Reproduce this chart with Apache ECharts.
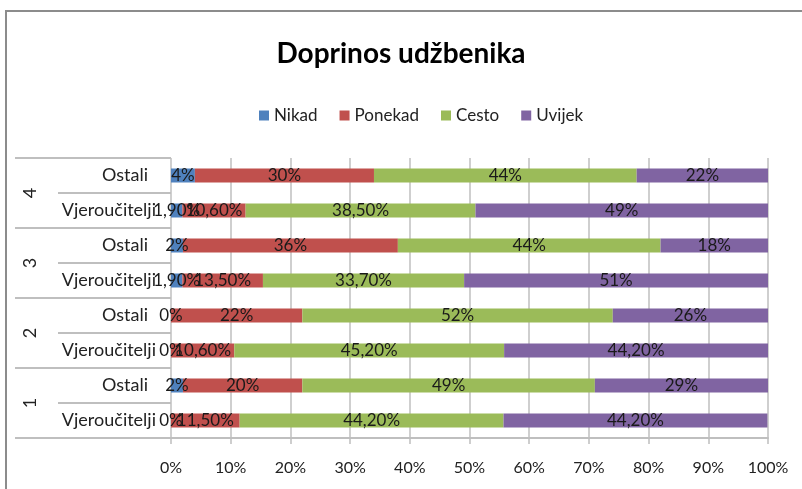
<!DOCTYPE html>
<html lang="hr">
<head>
    <meta charset="utf-8">
    <title>Doprinos udžbenika</title>
    <script src="https://cdn.jsdelivr.net/npm/echarts@6/dist/echarts.min.js"></script>
    <style>
        html, body { margin: 0; padding: 0; background: #fff; }
        #main { width: 802px; height: 489px; }
    </style>
</head>
<body>
<div id="main"></div>
<script>
    // redovi odozgo prema dolje
    var rows = ['Ostali', 'Vjeroučitelji', 'Ostali', 'Vjeroučitelji', 'Ostali', 'Vjeroučitelji', 'Ostali', 'Vjeroučitelji'];
    var groups = ['4', '3', '2', '1'];
    var seriesNames = ['Nikad', 'Ponekad', 'Cesto', 'Uvijek'];
    var colors = ['#4F81BD', '#C0504D', '#9BBB59', '#8064A2'];

    var nikad   = [4, 1.9, 2, 1.9, 0, 0, 2, 0];
    var ponekad = [30, 10.6, 36, 13.5, 22, 10.6, 20, 11.5];
    var cesto   = [44, 38.5, 44, 33.7, 52, 45.2, 49, 44.2];
    var uvijek  = [22, 49, 18, 51, 26, 44.2, 29, 44.2];

    var xTicks = [0, 10, 20, 30, 40, 50, 60, 70, 80, 90, 100];

    var font = 'Lato';
    var grey = '#bfbfbf';

    function fmt(v) {
        if (v === Math.round(v)) return v + '%';
        return v.toFixed(2).replace('.', ',') + '%';
    }

    var values = [nikad, ponekad, cesto, uvijek];
    var series = [];
    for (var i = 0; i < seriesNames.length; i++) {
        series.push({
            name: seriesNames[i],
            type: 'bar',
            stack: 'total',
            yAxisIndex: 0,
            barWidth: 14,
            itemStyle: { color: colors[i] },
            label: {
                show: true,
                position: 'inside',
                color: '#1a1a1a',
                fontFamily: font,
                fontSize: 17,
                formatter: function (p) { return fmt(p.value); }
            },
            data: values[i]
        });
    }

    var myChart = echarts.init(document.getElementById('main'));
    var option = {
        animation: false,
        backgroundColor: '#fff',
        title: {
            text: 'Doprinos udžbenika',
            left: 'center',
            top: 35,
            textStyle: { fontFamily: font, fontSize: 28, fontWeight: 'bold', color: '#000' }
        },
        legend: {
            top: 102,
            left: 254,
            icon: 'rect',
            itemWidth: 10,
            itemHeight: 10,
            itemGap: 22,
            textStyle: { fontFamily: font, fontSize: 17, color: '#222' },
            data: seriesNames
        },
        grid: { left: 171, right: 34, top: 158, bottom: 51 },
        xAxis: {
            type: 'value',
            min: 0,
            max: 100,
            interval: 10,
            axisLine: { show: true, lineStyle: { color: grey, width: 2 } },
            axisTick: { show: true, length: 6, lineStyle: { color: grey, width: 1.5 } },
            splitLine: { show: true, lineStyle: { color: grey, width: 1.5 } },
            axisLabel: {
                fontFamily: font, fontSize: 16, color: '#222', margin: 22,
                formatter: function (v) { return xTicks.indexOf(v) >= 0 ? v + '%' : ''; }
            }
        },
        yAxis: [{
            type: 'category',
            inverse: true,
            data: rows,
            axisLine: { show: false },
            axisTick: { show: true, length: 113, lineStyle: { color: grey, width: 2 } },
            axisLabel: {
                fontFamily: font, fontSize: 18, color: '#222', margin: 15,
                formatter: function (v) { return v === 'Ostali' ? '{o|' + v + '}' : v; },
                rich: { o: { fontFamily: font, fontSize: 18, color: '#222', padding: [0, 8, 0, 0] } }
            }
        }, {
            type: 'category',
            inverse: true,
            position: 'left',
            data: groups,
            axisLine: { show: false },
            axisTick: { show: true, length: 156, lineStyle: { color: grey, width: 2 } },
            axisLabel: { fontFamily: font, fontSize: 18, color: '#222', rotate: 90, margin: 132 }
        }],
        graphic: [{
            type: 'polyline',
            shape: { points: [[6, 489], [6, 11], [802, 11]] },
            style: { stroke: '#8c8c8c', lineWidth: 2, fill: null }
        }],
        series: series
    };

    myChart.setOption(option);
</script>
</body>
</html>
